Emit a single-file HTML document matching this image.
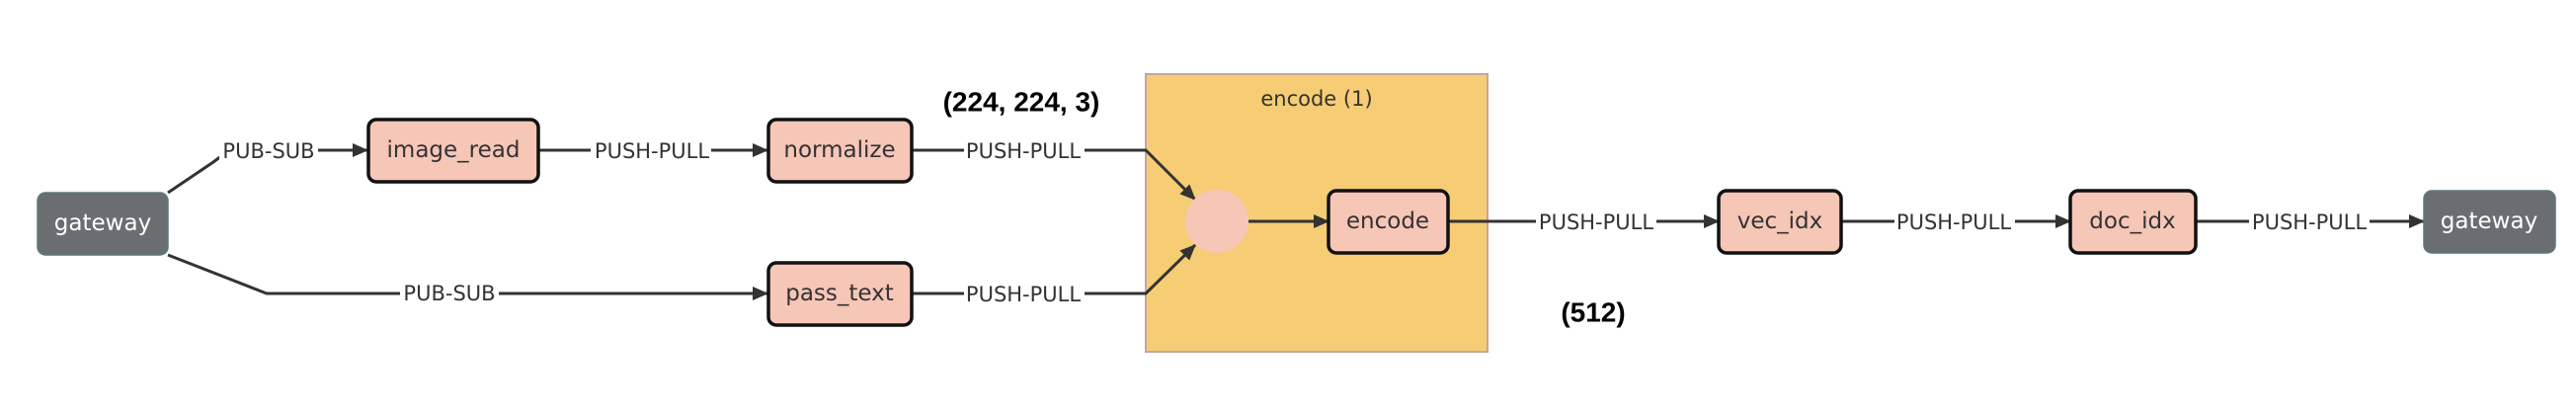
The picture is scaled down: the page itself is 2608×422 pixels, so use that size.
<!DOCTYPE html>
<html><head><meta charset="utf-8"><style>
html,body{margin:0;padding:0;background:#fff;width:2608px;height:422px;overflow:hidden}
svg{display:block}
.lbl{font-family:"DejaVu Sans","Liberation Sans",sans-serif;font-size:21px;fill:#333;text-anchor:middle;dominant-baseline:central}
.nt{font-family:"DejaVu Sans","Liberation Sans",sans-serif;font-size:23px;fill:#333;text-anchor:middle;dominant-baseline:central}
.gt{font-family:"DejaVu Sans","Liberation Sans",sans-serif;font-size:23px;fill:#fff;text-anchor:middle;dominant-baseline:central}
.bold{font-family:"Liberation Sans",sans-serif;font-weight:bold;font-size:28px;fill:#000;text-anchor:middle;dominant-baseline:central}
.ln{stroke:#333;stroke-width:3;fill:none}
.node{fill:#f6c6b7;stroke:#111;stroke-width:3.5}
.gw{fill:#6b6e71;stroke:#5a7a7a;stroke-width:1.5}
.bg{fill:#fff}
</style></head><body>
<svg width="2608" height="422" viewBox="0 0 2608 422" xmlns="http://www.w3.org/2000/svg">
<defs><marker id="b" markerWidth="16" markerHeight="14" refX="15" refY="7" orient="auto" markerUnits="userSpaceOnUse"><path d="M0,0 L16,7 L0,14 z" fill="#333"/></marker></defs>
<rect x="1160" y="75" width="346" height="281" fill="#f6cd74" stroke="#c7a69a" stroke-width="2"/>
<text class="nt" x="1333" y="100" style="font-size:21px">encode (1)</text>
<polyline class="ln" points="170,195 216,164 232,152 372,152" marker-end="url(#b)"/>
<polyline class="ln" points="170,258 270,297 777,297" marker-end="url(#b)"/>
<line class="ln" x1="544" y1="152" x2="777" y2="152" marker-end="url(#b)"/>
<polyline class="ln" points="922,152 1160,152 1210,202" marker-end="url(#b)"/>
<polyline class="ln" points="922,297 1160,297 1210,248" marker-end="url(#b)"/>
<line class="ln" x1="1264" y1="224" x2="1345" y2="224" marker-end="url(#b)"/>
<line class="ln" x1="1466" y1="224" x2="1740" y2="224" marker-end="url(#b)"/>
<line class="ln" x1="1864" y1="224" x2="2096" y2="224" marker-end="url(#b)"/>
<line class="ln" x1="2223" y1="224" x2="2454" y2="224" marker-end="url(#b)"/>
<rect class="bg" x="222" y="140" width="100" height="26"/><text class="lbl" x="272" y="153">PUB-SUB</text>
<rect class="bg" x="598" y="140" width="122" height="26"/><text class="lbl" x="660" y="153">PUSH-PULL</text>
<rect class="bg" x="976" y="140" width="122" height="26"/><text class="lbl" x="1036" y="153">PUSH-PULL</text>
<rect class="bg" x="976" y="285" width="122" height="26"/><text class="lbl" x="1036" y="298">PUSH-PULL</text>
<rect class="bg" x="1555" y="212" width="122" height="26"/><text class="lbl" x="1616" y="225">PUSH-PULL</text>
<rect class="bg" x="1918" y="212" width="122" height="26"/><text class="lbl" x="1978" y="225">PUSH-PULL</text>
<rect class="bg" x="2277" y="212" width="122" height="26"/><text class="lbl" x="2338" y="225">PUSH-PULL</text>
<rect x="405" y="284" width="100" height="26" fill="#fff"/><text class="lbl" x="455" y="297">PUB-SUB</text>
<rect class="gw" x="38" y="195" width="132" height="63" rx="8"/><text class="gt" x="104" y="226">gateway</text>
<rect class="node" x="373" y="121" width="172" height="63" rx="8"/><text class="nt" x="459" y="152">image_read</text>
<rect class="node" x="778" y="121" width="145" height="63" rx="8"/><text class="nt" x="850" y="152">normalize</text>
<rect class="node" x="778" y="266" width="145" height="63" rx="8"/><text class="nt" x="850" y="297">pass_text</text>
<circle cx="1232" cy="224" r="32" fill="#f6c6b7"/>
<rect class="node" x="1345" y="193" width="121" height="63" rx="8"/><text class="nt" x="1405" y="224">encode</text>
<rect class="node" x="1740" y="193" width="124" height="63" rx="8"/><text class="nt" x="1802" y="224">vec_idx</text>
<rect class="node" x="2096" y="193" width="127" height="63" rx="8"/><text class="nt" x="2159" y="224">doc_idx</text>
<rect class="gw" x="2454" y="193" width="133" height="63" rx="8"/><text class="gt" x="2520" y="224">gateway</text>
<text class="bold" x="1034" y="103">(224, 224, 3)</text>
<text class="bold" x="1613" y="316">(512)</text>
</svg>
</body></html>
